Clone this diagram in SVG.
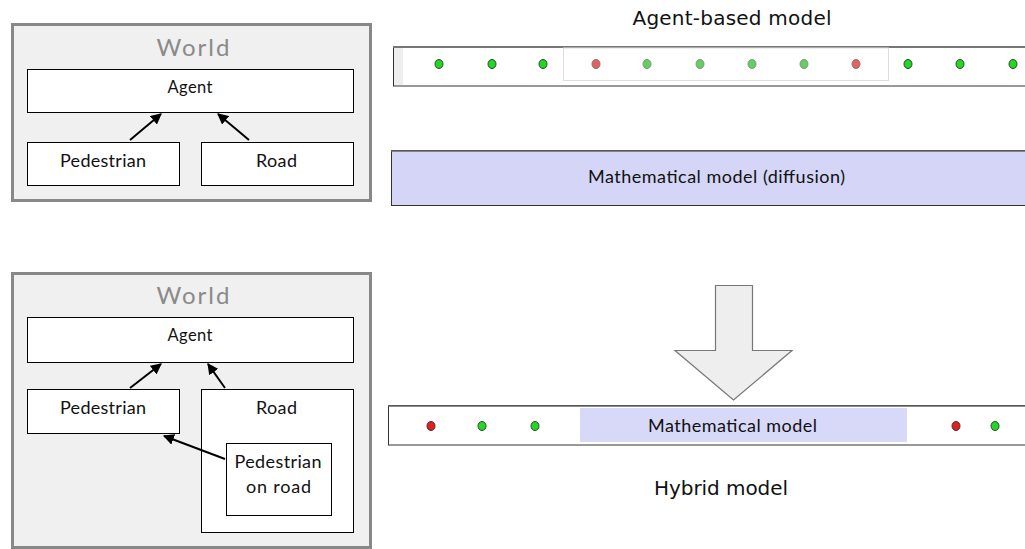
<svg xmlns="http://www.w3.org/2000/svg" width="1025" height="549" viewBox="0 0 1025 549">
<defs>
<style>
.world{fill:#f0f0f0;stroke:#888;stroke-width:3}
.box{fill:#fff;stroke:#000;stroke-width:1}
.gill{font-family:Lato,"Liberation Sans",sans-serif;fill:#111;text-anchor:middle}
.wt{font-family:Lato,"Liberation Sans",sans-serif;fill:#8a8a8a;font-size:24px;text-anchor:middle}
.title{font-family:"DejaVu Sans",sans-serif;font-size:20px;fill:#111;text-anchor:middle}
.conn{stroke:#000;stroke-width:2;fill:none;marker-end:url(#ah)}
.dg{fill:#22d822;stroke:#2a4a2a;stroke-width:1}
.dl{fill:#66cc66;stroke:#7a9a7a;stroke-width:1}
.dr{fill:#e06262;stroke:#9a6a6a;stroke-width:1}
.dR{fill:#dd2222;stroke:#662222;stroke-width:1}
</style>
<marker id="ah" viewBox="0 0 10 10" refX="9" refY="5" markerWidth="5.5" markerHeight="5.5" orient="auto" markerUnits="strokeWidth">
<path d="M0,0 L10,5 L0,10 Z" fill="#000"/>
</marker>
</defs>
<rect width="1025" height="549" fill="#fff"/>

<!-- Top left diagram -->
<g id="world1">
<rect class="world" x="12.5" y="24.5" width="358" height="176"/>
<text class="wt" x="193" y="56" textLength="73">World</text>
</g>
<g id="agent1">
<rect class="box" x="27.5" y="69.5" width="326" height="43"/>
<text class="gill" x="190" y="93" font-size="16.5" textLength="45">Agent</text>
</g>
<g id="pedestrian1">
<rect class="box" x="27.5" y="142.5" width="152" height="43"/>
<text class="gill" x="103" y="167" font-size="18" textLength="86">Pedestrian</text>
</g>
<g id="road1">
<rect class="box" x="201.5" y="142.5" width="152" height="43"/>
<text class="gill" x="276.5" y="167" font-size="18" textLength="41">Road</text>
</g>

<!-- Bottom left diagram -->
<g id="world2">
<rect class="world" x="12.5" y="273.5" width="358" height="274"/>
<text class="wt" x="193" y="304" textLength="73">World</text>
</g>
<g id="agent2">
<rect class="box" x="27.5" y="317.5" width="326" height="45"/>
<text class="gill" x="190" y="341" font-size="16.5" textLength="45">Agent</text>
</g>
<g id="pedestrian2">
<rect class="box" x="27.5" y="389.5" width="152" height="44"/>
<text class="gill" x="103" y="414" font-size="18" textLength="86">Pedestrian</text>
</g>
<g id="road2">
<rect class="box" x="201.5" y="389.5" width="152" height="143"/>
<text class="gill" x="276.5" y="414" font-size="18" textLength="41">Road</text>
</g>
<g id="pedonroad">
<rect class="box" x="226.5" y="443.5" width="105" height="72"/>
<text class="gill" x="278" y="468" font-size="18" textLength="87">Pedestrian</text>
<text class="gill" x="278.5" y="493" font-size="18" textLength="65">on road</text>
</g>

<g id="connectors">
<line class="conn" x1="130" y1="140" x2="161" y2="114"/>
<line class="conn" x1="249" y1="140" x2="218" y2="114"/>
<line class="conn" x1="130" y1="388" x2="161" y2="364"/>
<line class="conn" x1="225" y1="388" x2="208" y2="364"/>
<line class="conn" x1="225" y1="459" x2="164" y2="436"/>
</g>

<!-- Agent-based model -->
<g id="abm">
<text class="title" x="732" y="25" textLength="199">Agent-based model</text>
<rect x="393.5" y="46.5" width="700" height="39.5" fill="#fff" stroke="#333" stroke-width="1"/>
<line x1="393" y1="47" x2="1025" y2="47" stroke="#777" stroke-width="2"/>
<rect x="394" y="48" width="9" height="37" fill="#eeeeee"/>
<rect x="563.5" y="48" width="325" height="32.5" fill="#fff" stroke="#ddd" stroke-width="1"/>
<ellipse class="dg" cx="439" cy="64" rx="4" ry="4.5"/>
<ellipse class="dg" cx="492" cy="64" rx="4" ry="4.5"/>
<ellipse class="dg" cx="543" cy="64" rx="4" ry="4.5"/>
<ellipse class="dr" cx="596" cy="64" rx="4" ry="4.5"/>
<ellipse class="dl" cx="647" cy="64" rx="4" ry="4.5"/>
<ellipse class="dl" cx="700" cy="64" rx="4" ry="4.5"/>
<ellipse class="dl" cx="752" cy="64" rx="4" ry="4.5"/>
<ellipse class="dl" cx="804" cy="64" rx="4" ry="4.5"/>
<ellipse class="dr" cx="856" cy="64" rx="4" ry="4.5"/>
<ellipse class="dg" cx="908" cy="64" rx="4" ry="4.5"/>
<ellipse class="dg" cx="960" cy="64" rx="4" ry="4.5"/>
<ellipse class="dg" cx="1013" cy="64" rx="4" ry="4.5"/>
</g>

<!-- Mathematical model (diffusion) -->
<g id="diffusion">
<rect x="391.5" y="150.5" width="700" height="55" fill="#d5d5f7" stroke="#333" stroke-width="1"/>
<line x1="391" y1="151" x2="1025" y2="151" stroke="#666" stroke-width="1.5"/>
<text class="gill" x="716.5" y="183" font-size="18" textLength="257">Mathematical model (diffusion)</text>
</g>

<!-- Big arrow -->
<g id="bigarrow">
<path d="M715.5,285.5 L752.5,285.5 L752.5,350.5 L792,350.5 L733.5,400 L675,350.5 L715.5,350.5 Z" fill="#eeeeee" stroke="#777" stroke-width="1.2"/>
</g>

<!-- Hybrid model -->
<g id="hybrid">
<rect x="388.5" y="405.5" width="700" height="39.5" fill="#fff" stroke="#333" stroke-width="1"/>
<line x1="388" y1="406" x2="1025" y2="406" stroke="#666" stroke-width="1.5"/>
<rect x="580" y="408" width="327" height="34" fill="#d8d8f8"/>
<text class="gill" x="732.5" y="432" font-size="18" textLength="169">Mathematical model</text>
<ellipse class="dR" cx="431" cy="426" rx="4" ry="4.5"/>
<ellipse class="dg" cx="482" cy="426" rx="4" ry="4.5"/>
<ellipse class="dg" cx="535" cy="426" rx="4" ry="4.5"/>
<ellipse class="dR" cx="956" cy="426" rx="4" ry="4.5"/>
<ellipse class="dg" cx="995" cy="426" rx="4" ry="4.5"/>
<text class="title" x="721" y="495" textLength="134">Hybrid model</text>
</g>
</svg>
